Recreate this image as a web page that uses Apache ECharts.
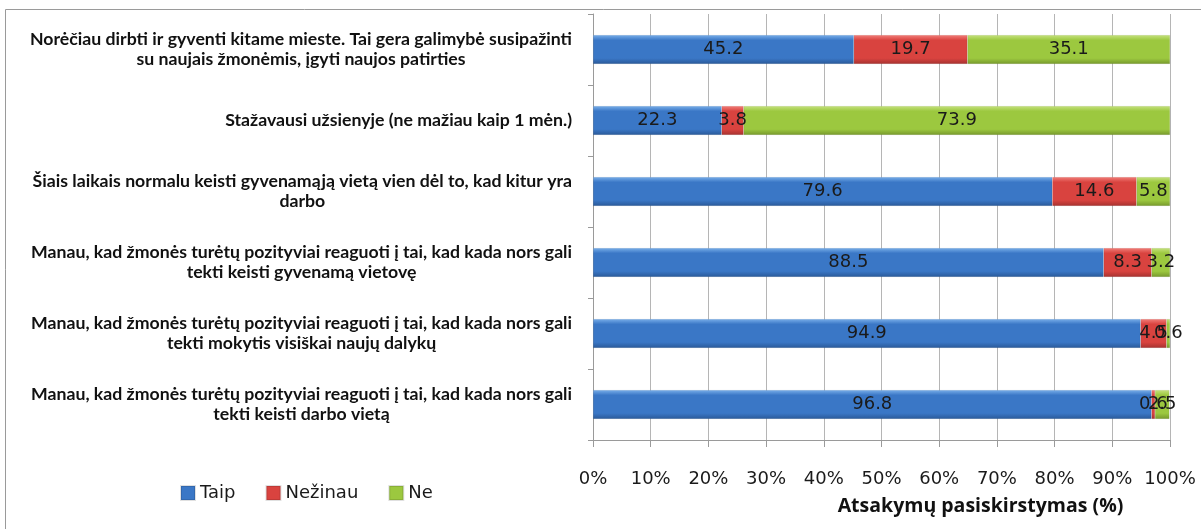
<!DOCTYPE html>
<html>
<head>
<meta charset="utf-8">
<script src="https://cdn.jsdelivr.net/npm/echarts@6/dist/echarts.min.js"></script>
<style>
  html, body { margin: 0; padding: 0; background: #ffffff; }
  #chart { width: 1201px; height: 529px; }
</style>
</head>
<body>
<div id="chart"></div>
<script>
const categories = [
  "Norėčiau dirbti ir gyventi kitame mieste. Tai gera galimybė susipažinti\nsu naujais žmonėmis, įgyti naujos patirties",
  "Stažavausi užsienyje (ne mažiau kaip 1 mėn.)",
  "Šiais laikais normalu keisti gyvenamąją vietą vien dėl to, kad kitur yra\ndarbo",
  "Manau, kad žmonės turėtų pozityviai reaguoti į tai, kad kada nors gali\ntekti keisti gyvenamą vietovę",
  "Manau, kad žmonės turėtų pozityviai reaguoti į tai, kad kada nors gali\ntekti mokytis visiškai naujų dalykų",
  "Manau, kad žmonės turėtų pozityviai reaguoti į tai, kad kada nors gali\ntekti keisti darbo vietą"
];
const seriesNames = ["Taip", "Nežinau", "Ne"];
const taip    = [45.2, 22.3, 79.6, 88.5, 94.9, 96.8];
const nezinau = [19.7, 3.8, 14.6, 8.3, 4.5, 0.6];
const ne      = [35.1, 73.9, 5.8, 3.2, 0.6, 2.5];
const xTicks = { min: 0, max: 100, interval: 10 };
const xAxisTitle = "Atsakymų pasiskirstymas (%)";

function grad(light, mid, dark) {
  return new echarts.graphic.LinearGradient(0, 0, 0, 1, [
    { offset: 0, color: light },
    { offset: 0.18, color: mid },
    { offset: 0.8, color: mid },
    { offset: 1, color: dark }
  ]);
}
const colors = [
  grad('#79afea', '#3a77c6', '#2a5998'),
  grad('#f27f7a', '#d9433f', '#a53230'),
  grad('#c6e27f', '#9cc83f', '#76982c')
];
const legendColors = ['#3a77c6', '#d9433f', '#9cc83f'];
const dataSets = [taip, nezinau, ne];

const labelFont = "Lato, 'Open Sans', sans-serif";

const chart = echarts.init(document.getElementById('chart'), null, { renderer: 'canvas' });
chart.setOption({
  animation: false,
  backgroundColor: '#ffffff',
  graphic: [{
    type: 'rect',
    shape: { x: 5.5, y: 9.5, width: 1300, height: 600 },
    style: { fill: 'none', stroke: '#9a9a9a', lineWidth: 1 },
    silent: true,
    z: -10
  }],
  legend: {
    left: 175,
    top: 479,
    itemWidth: 14,
    itemHeight: 14,
    itemGap: 30,
    icon: 'rect',
    textStyle: { fontFamily: 'DejaVu Sans', fontSize: 18, color: '#1a1a1a' },
    data: seriesNames.map((n, i) => ({ name: n, itemStyle: { color: legendColors[i] } }))
  },
  grid: { left: 593, right: 31, top: 14, bottom: 89, containLabel: false },
  xAxis: {
    type: 'value',
    min: xTicks.min, max: xTicks.max, interval: xTicks.interval,
    name: xAxisTitle,
    nameLocation: 'middle',
    nameGap: 56,
    nameTextStyle: {
      fontFamily: "'Open Sans', sans-serif", fontWeight: 'bold', fontSize: 19.5, color: '#111',
      padding: [0, 0, 0, 198]
    },
    axisLine: { show: true, lineStyle: { color: '#9a9a9a', width: 1 } },
    axisTick: { show: true, length: 7, lineStyle: { color: '#9a9a9a' } },
    axisLabel: {
      formatter: '{value}%', margin: 30,
      fontFamily: 'DejaVu Sans', fontSize: 18, color: '#1a1a1a'
    },
    splitLine: { show: true, lineStyle: { color: '#b5b5b5', width: 1 } }
  },
  yAxis: {
    type: 'category',
    inverse: true,
    data: categories,
    axisLine: { show: true, lineStyle: { color: '#9a9a9a', width: 1 } },
    axisTick: { show: true, length: 5, lineStyle: { color: '#9a9a9a' } },
    axisLabel: {
      margin: 21,
      align: 'right',
      formatter: function (v) {
        return v.split('\n').map(l => '{c|' + l + '}').join('\n');
      },
      rich: {
        c: {
          align: 'center',
          fontFamily: labelFont, fontWeight: 'bold', fontSize: 17.7,
          lineHeight: 20, color: '#111'
        }
      }
    },
    splitLine: { show: false }
  },
  series: seriesNames.map((n, i) => ({
    name: n,
    type: 'bar',
    stack: 'total',
    barWidth: 29,
    data: dataSets[i],
    itemStyle: { color: colors[i], borderColor: 'rgba(0,0,0,0.12)', borderWidth: 0.5 },
    label: {
      show: true,
      position: 'inside',
      formatter: p => p.value.toFixed(1),
      fontFamily: 'DejaVu Sans', fontSize: 18, color: '#1a1a1a'
    },
    emphasis: { disabled: true }
  }))
});
</script>
</body>
</html>
